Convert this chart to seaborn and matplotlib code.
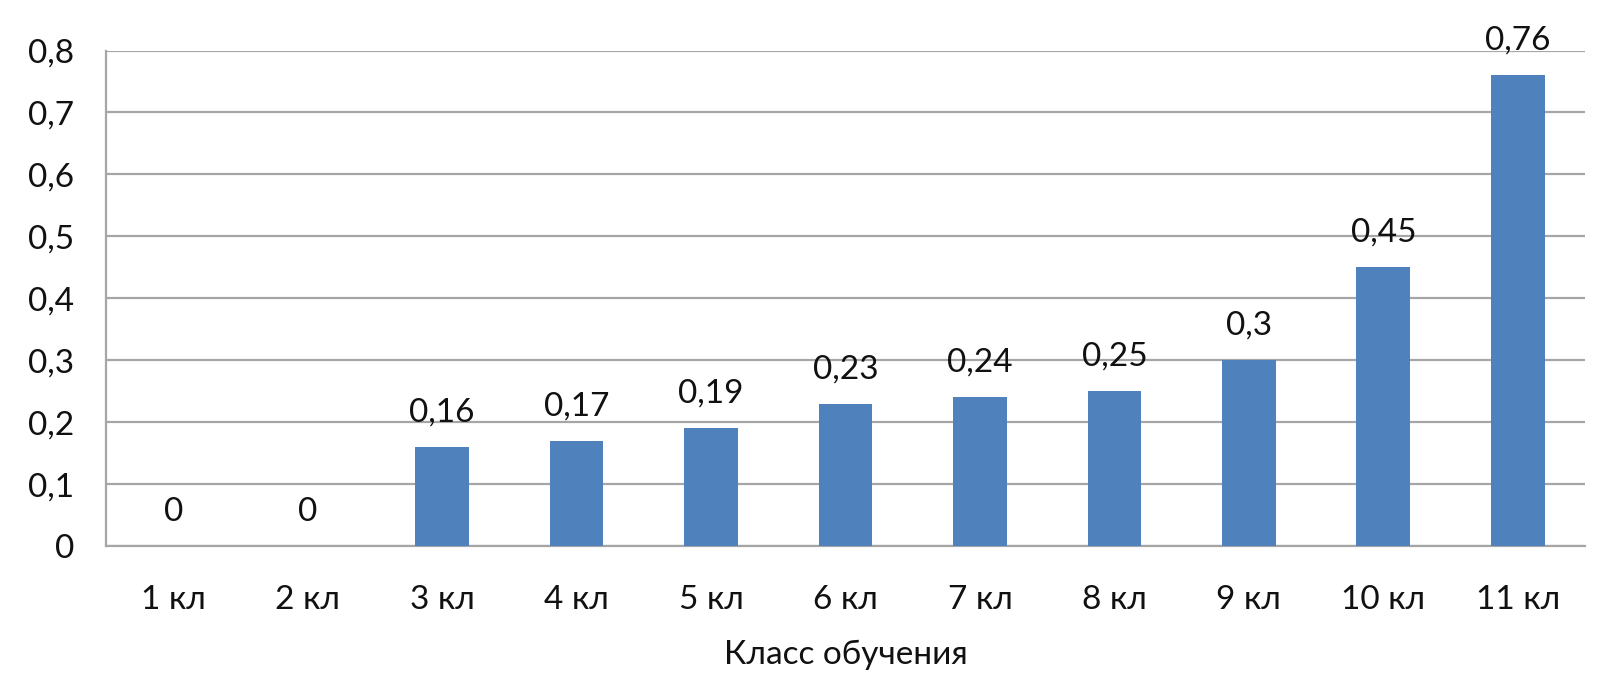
import matplotlib
matplotlib.use("Agg")
import matplotlib.pyplot as plt
import seaborn as sns
import pandas as pd
import numpy as np

categories = ["1 кл", "2 кл", "3 кл", "4 кл", "5 кл", "6 кл", "7 кл", "8 кл", "9 кл", "10 кл", "11 кл"]
values = [0, 0, 0.16, 0.17, 0.19, 0.23, 0.24, 0.25, 0.3, 0.45, 0.76]
y_ticks = [0, 0.1, 0.2, 0.3, 0.4, 0.5, 0.6, 0.7, 0.8]
x_title = "Класс обучения"

sns.set_style("white")
plt.rcParams['font.family'] = ['Lato', 'DejaVu Sans']

def fmt(v):
    return f"{v:g}".replace('.', ',')

df = pd.DataFrame({"cls": categories, "val": values})

fig = plt.figure(figsize=(16.16, 6.76), dpi=100)
ax = fig.add_axes([106/1616, 1 - 546/676, (1585-106)/1616, (546-50.5)/676])

grid_c = "#A6A6A6"
txt_c = "#111111"
sns.barplot(data=df, x="cls", y="val", color="#4F81BD", saturation=1, width=0.4,
            linewidth=0, ax=ax, zorder=3)

ax.set_ylim(0, 0.8)
ax.set_xlim(-0.5, len(categories) - 0.5)
ax.set_yticks(y_ticks)
ax.set_yticklabels([fmt(t) for t in y_ticks])
ax.yaxis.grid(True, color=grid_c, linewidth=1.6, zorder=0)
ax.set_axisbelow(True)

for s in ["top", "right"]:
    ax.spines[s].set_visible(False)
for s in ["left", "bottom"]:
    ax.spines[s].set_color(grid_c)
    ax.spines[s].set_linewidth(1.6)

ax.tick_params(axis="y", length=8, width=1.6, color=grid_c, pad=15, labelsize=24, labelcolor=txt_c)
ax.tick_params(axis="x", which="major", length=0, pad=28, labelsize=24, labelcolor=txt_c)
ax.set_xticks(np.arange(-0.5, len(categories), 1.0), minor=True)
ax.tick_params(axis="x", which="minor", length=8, width=1.6, color=grid_c)

for i, v in enumerate(values):
    ax.annotate(fmt(v), (i, v), xytext=(0, 14), textcoords="offset points",
                ha="center", va="bottom", fontsize=24, color=txt_c)

ax.set_xlabel(x_title, fontsize=24, color=txt_c, labelpad=18)
ax.set_ylabel("")

fig.savefig("out.png", dpi=100)
